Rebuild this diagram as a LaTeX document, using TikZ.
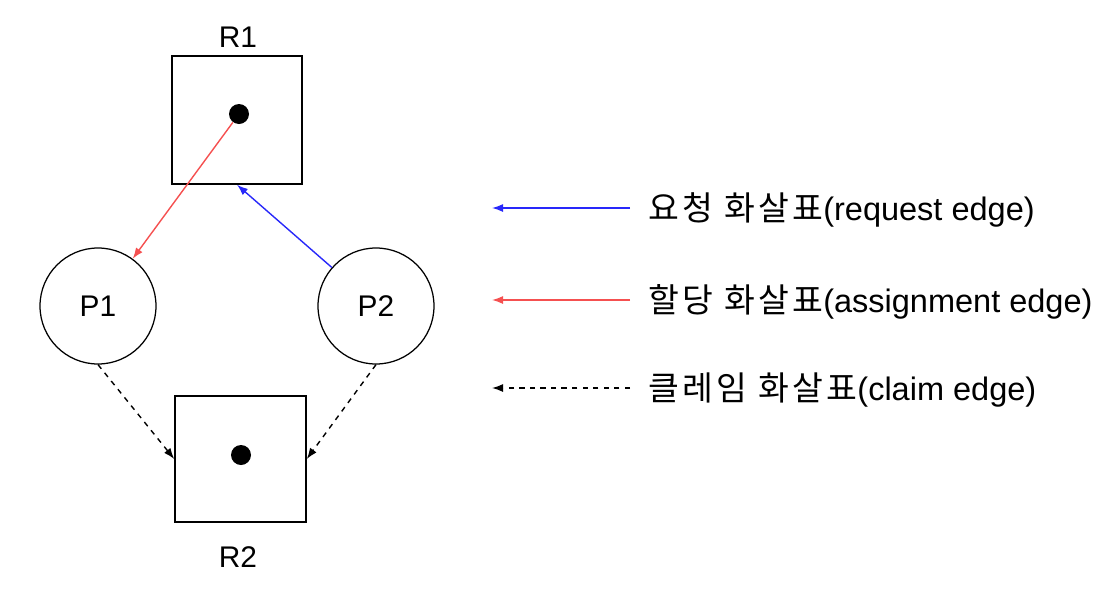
\documentclass[tikz,border=0pt]{standalone}
\usepackage{fontspec}
\setmainfont{Liberation Sans}
\newfontfamily\krfont[Scale=1.03, LetterSpace=10]{Noto Sans CJK KR}
\usepackage{xcolor}
\usetikzlibrary{positioning}
\usetikzlibrary{arrows.meta}

\begin{document}
\begin{tikzpicture}[draw, font=\fontsize{17}{20}\selectfont]
			\useasboundingbox (0.0000000, 0.0000000) rectangle (22.2200000, -11.8000000);
			\definecolor{BLUE}{RGB}{40, 40, 250}
			\definecolor{RED}{RGB}{245, 80, 80}
			\node[draw, line width={0.3mm}, minimum width={2.6cm}, minimum height={2.56cm}] (R1) at ( 4.7400000, -2.4000000) {};
			\node (R1label) at ( 4.7600000, -0.7400000) {R1};
			\node[circle, fill, inner sep=0pt, minimum size={0.4cm}] (R1dot) at ( 4.7800000, -2.2800000) {};
			\node[draw, circle, line width={0.25mm}, minimum size={2.32cm}] (P1) at ( 1.9600000, -6.1200000) {P1};
			\node[draw, circle, line width={0.25mm}, minimum size={2.32cm}] (P2) at ( 7.5200000, -6.1200000) {P2};
			\node[draw, line width={0.3mm}, minimum width={2.62cm}, minimum height={2.52cm}] (R2) at ( 4.8100000, -9.1800000) {};
			\node[circle, fill, inner sep=0pt, minimum size={0.4cm}] (R2dot) at ( 4.8200000, -9.1000000) {};
			\node (R2label) at ( 4.7600000, -11.1400000) {R2};
			\draw[-{Latex[length=2.2mm,width=1.6mm]}, line width={0.28mm}, color={RED!100}] (R1dot) to (P1);
			\draw[-{Latex[length=2.2mm,width=1.6mm]}, line width={0.28mm}, color={BLUE!100}] (P2) to (R1.south);
			\draw[-{Latex[length=2.2mm,width=1.6mm]}, line width={0.28mm}, dashed] (P1.south) to (R2.west);
			\draw[-{Latex[length=2.2mm,width=1.6mm]}, line width={0.28mm}, dashed] (P2.south) to (R2.east);
			% legend
			\coordinate (reqA) at (12.6000000, -4.1600000);
			\coordinate (reqB) at ( 9.8400000, -4.1600000);
			\coordinate (asgA) at (12.6000000, -6.0000000);
			\coordinate (asgB) at ( 9.8400000, -6.0000000);
			\coordinate (clmA) at (12.6000000, -7.7600000);
			\coordinate (clmB) at ( 9.8400000, -7.7600000);
			\draw[-{Latex[length=2.2mm,width=1.6mm]}, line width={0.28mm}, color={BLUE!100}] (reqA) to (reqB);
			\draw[-{Latex[length=2.2mm,width=1.6mm]}, line width={0.28mm}, color={RED!100}] (asgA) to (asgB);
			\draw[-{Latex[length=2.2mm,width=1.6mm]}, line width={0.28mm}, dashed] (clmA) to (clmB);
			\node[anchor=west, inner sep=0pt, font=\fontsize{18.5}{20}\selectfont] (reqtext) at (12.9600000, -4.2000000) {{\krfont 요청 화살표}(request edge)};
			\node[anchor=west, inner sep=0pt, font=\fontsize{18.5}{20}\selectfont] (asgtext) at (12.9600000, -6.0400000) {{\krfont 할당 화살표}(assignment edge)};
			\node[anchor=west, inner sep=0pt, font=\fontsize{18.5}{20}\selectfont] (clmtext) at (12.9600000, -7.8000000) {{\krfont 클레임 화살표}(claim edge)};
		\end{tikzpicture}
\end{document}
